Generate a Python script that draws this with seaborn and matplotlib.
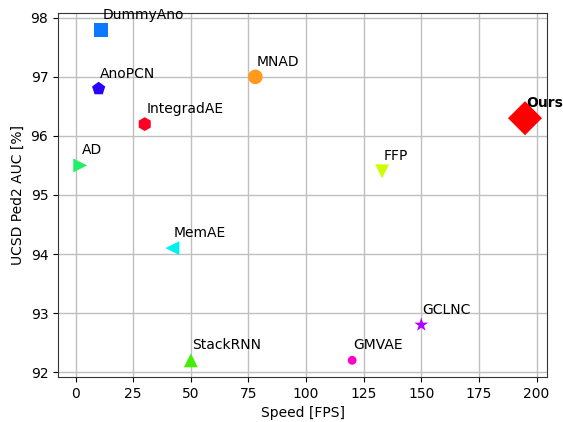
import matplotlib
matplotlib.use("Agg")
import matplotlib.pyplot as plt
import seaborn as sns
import pandas as pd

methods = ["DummyAno", "AnoPCN", "IntegradAE", "MNAD", "AD", "FFP",
           "Ours", "MemAE", "StackRNN", "GMVAE", "GCLNC"]
fps = [11, 10, 30, 78, 2, 133, 195, 42, 50, 120, 150]
auc = [97.8, 96.8, 96.2, 97.0, 95.5, 95.4, 96.3, 94.1, 92.2, 92.2, 92.8]

colors = ["#0a78ff", "#2a00ff", "#ff0022", "#ff9a1a", "#22ee66", "#ccff00",
          "#ff0000", "#00f0f0", "#44ee00", "#ff00c8", "#b000ff"]
markers = ["s", "p", "h", "o", ">", "v", "D", "<", "^", "o", "*"]
sizes = [100, 100, 100, 110, 100, 100, 300, 100, 100, 40, 110]

df = pd.DataFrame({"method": methods, "fps": fps, "auc": auc})

sns.set_style("ticks", {"text.color": "black", "axes.labelcolor": "black",
                        "xtick.color": "black", "ytick.color": "black"})
plt.rcParams["font.family"] = ["DejaVu Sans"]

fig, ax = plt.subplots(figsize=(5.63, 4.22), dpi=100)
ax.grid(True, color="#bfbfbf", linewidth=1.0, zorder=0)
ax.set_axisbelow(True)

sns.scatterplot(data=df, x="fps", y="auc", hue="method", style="method",
                size="method",
                palette=dict(zip(methods, colors)),
                markers=dict(zip(methods, markers)),
                sizes=dict(zip(methods, sizes)),
                linewidth=0, legend=False, ax=ax, zorder=3)

for m, x, y in zip(methods, fps, auc):
    if m == "Ours":
        ax.annotate(m, (x, y), xytext=(1, 8), textcoords="offset points",
                    fontsize=10, fontweight="bold", color="black")
    else:
        ax.annotate(m, (x, y), xytext=(1, 8), textcoords="offset points",
                    fontsize=10, color="black")

ax.set_xticks([0, 25, 50, 75, 100, 125, 150, 175, 200])
ax.set_yticks([92, 93, 94, 95, 96, 97, 98])
ax.set_xlabel("Speed [FPS]")
ax.set_ylabel("UCSD Ped2 AUC [%]")
for s in ax.spines.values():
    s.set_color("#333333")

fig.subplots_adjust(left=0.103, right=0.972, top=0.969, bottom=0.107)
fig.savefig("out.png", dpi=100)
